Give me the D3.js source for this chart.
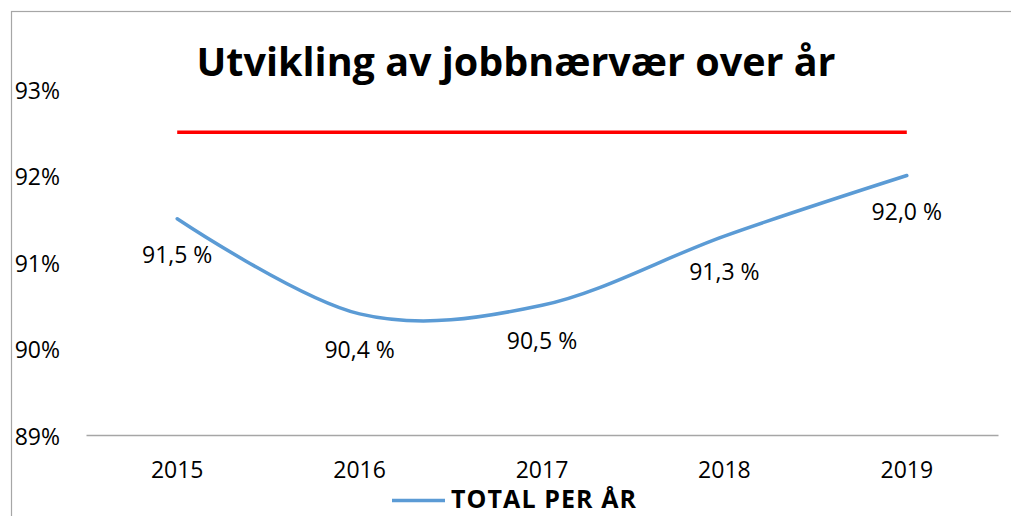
<!DOCTYPE html>
<html lang="en">
<head>
    <meta charset="UTF-8">
    <title>Utvikling av jobbnærvær over år</title>
    <style>
        body { margin: 0; background: #fff; }
        svg { display: block; font-family: "Open Sans", sans-serif; }
    </style>
</head>
<body>
    <svg id="container" width="1011" height="516"></svg>
</body>

<script src="https://cdn.jsdelivr.net/npm/d3@7"></script>

<script>

    // data
    let years = ["2015", "2016", "2017", "2018", "2019"]
    let totalPerYear = [91.5, 90.4, 90.5, 91.3, 92.0]
    let target = [92.5, 92.5, 92.5, 92.5, 92.5]
    let yTicks = [89, 90, 91, 92, 93]

    let font = "'Open Sans', sans-serif"
    let svg = d3.select("#container")

    // chart frame
    svg.append("rect")
        .attr("x", 11.5)
        .attr("y", 11.5)
        .attr("width", 1010)
        .attr("height", 520)
        .attr("fill", "white")
        .attr("stroke", "#a6a6a6")
        .attr("stroke-width", 1.2)

    let x = d3.scaleBand()
        .domain(years)
        .range([86, 998])

    let y = d3.scaleLinear()
        .domain([89, 93])
        .range([435, 89])

    let cx = d => x(d) + x.bandwidth() / 2

    // title
    svg.append("text")
        .attr("x", 516)
        .attr("y", 76)
        .attr("text-anchor", "middle")
        .attr("font-size", 39.5)
        .attr("font-weight", "bold")
        .attr("fill", "#000")
        .attr("textLength", 639)
        .attr("lengthAdjust", "spacing")
        .text("Utvikling av jobbnærvær over år")

    // y axis labels
    let yAxis = svg.append("g")
        .attr("transform", "translate(60,0)")
        .call(d3.axisLeft(y).tickValues(yTicks).tickSize(0).tickPadding(0).tickFormat(d => d + "%"))
    yAxis.select(".domain").remove()
    yAxis.selectAll("text")
        .attr("font-size", 23)
        .attr("font-family", font)
        .attr("fill", "#000")
        .attr("dy", "0.4em")

    // x axis
    let xAxis = svg.append("g")
        .attr("transform", "translate(0,435)")
        .call(d3.axisBottom(x).tickSize(0))
    xAxis.select(".domain")
        .attr("stroke", "#a6a6a6")
        .attr("stroke-width", 1.5)
    xAxis.selectAll("text")
        .attr("font-size", 23)
        .attr("font-family", font)
        .attr("fill", "#000")
        .attr("y", 43)
        .attr("dy", 0)

    let line = d3.line()
        .x((d, i) => cx(years[i]))
        .y(d => y(d))

    // target line
    svg.append("path")
        .datum(target)
        .attr("fill", "none")
        .attr("stroke", "#ff0000")
        .attr("stroke-width", 3.5)
        .attr("d", line)

    // total per year, smoothed
    svg.append("path")
        .datum(totalPerYear)
        .attr("fill", "none")
        .attr("stroke", "#5b9bd5")
        .attr("stroke-width", 3.5)
        .attr("stroke-linecap", "round")
        .attr("d", line.curve(d3.curveCardinal.tension(0)))

    // data labels
    svg.append("g")
        .selectAll("text")
        .data(totalPerYear)
        .enter()
        .append("text")
        .attr("x", (d, i) => cx(years[i]))
        .attr("y", d => y(d) + 44)
        .attr("text-anchor", "middle")
        .attr("font-size", 23)
        .attr("fill", "#000")
        .text(d => d3.format(".1f")(d).replace(".", ",") + " %")

    // legend
    let legend = svg.append("g")
    legend.append("line")
        .attr("x1", 392)
        .attr("x2", 445)
        .attr("y1", 500.5)
        .attr("y2", 500.5)
        .attr("stroke", "#5b9bd5")
        .attr("stroke-width", 3.5)
    legend.append("text")
        .attr("x", 451)
        .attr("y", 508)
        .attr("font-size", 25)
        .attr("font-weight", "bold")
        .attr("fill", "#000")
        .attr("textLength", 185)
        .attr("lengthAdjust", "spacing")
        .text("TOTAL PER ÅR")

</script>

</html>
